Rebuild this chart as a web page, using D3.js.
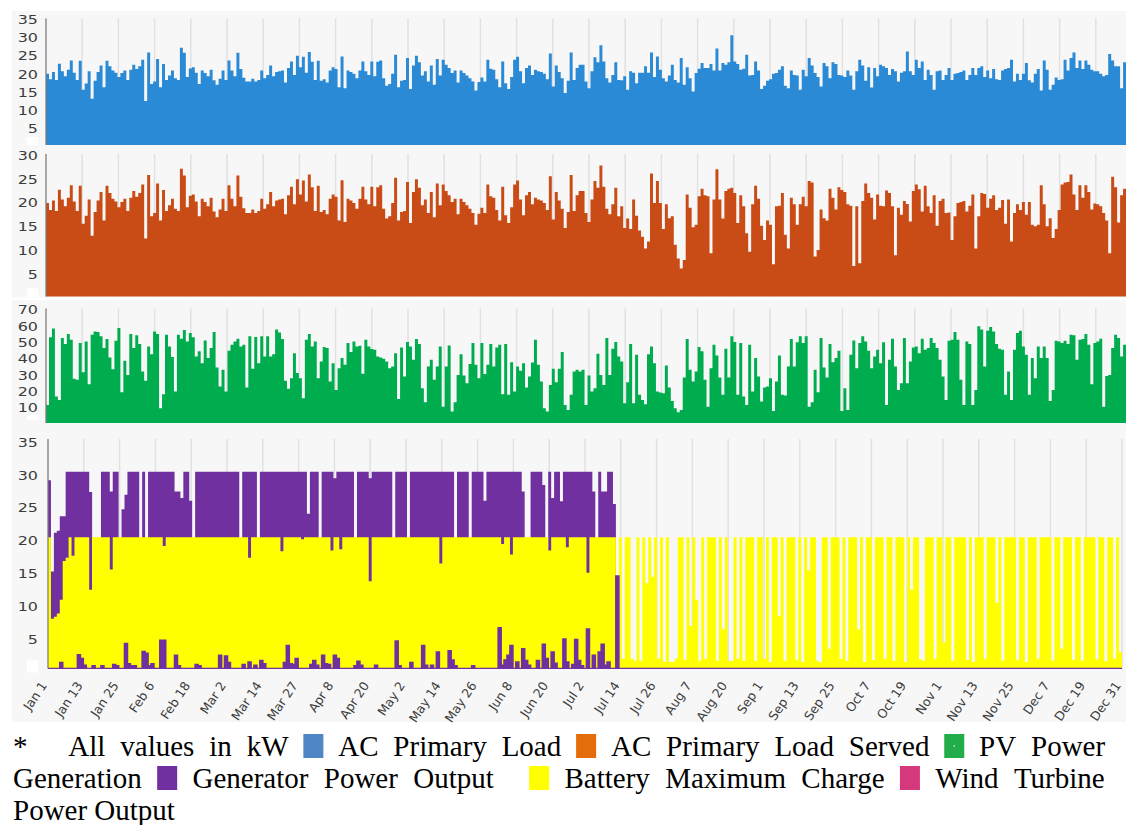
<!DOCTYPE html>
<html>
<head>
<meta charset="utf-8">
<title>Daily power profiles</title>
<script src="https://cdn.jsdelivr.net/npm/d3@7"></script>
<style>
  html, body { margin: 0; padding: 0; background: #ffffff; }
  svg { display: block; }
  .legend text { font-family: "Liberation Serif", "Times New Roman", Tinos, "DejaVu Serif", serif; }
</style>
</head>
<body>
<svg id="chart" width="1126" height="825"></svg>
<script>
// Daily values in kW, one entry per day from Jan 1 (index 0) to Dec 31 (index 364).

const acPrimaryLoad = [
  19.7, 18.2, 20.2, 18, 22.5, 20.4, 19, 20.8, 23.4, 20,
  18, 23.3, 15.3, 17, 20.4, 12.8, 17.8, 20.2, 22, 16,
  23.3, 21.8, 20.6, 20, 18.8, 19.9, 20.6, 18, 20.8, 22.2,
  21, 21.8, 23.6, 12.2, 25.6, 16.9, 17.6, 23.8, 16, 22.4,
  18, 19.2, 20.6, 18.5, 18, 26.9, 25.5, 18.8, 21.2, 21.5,
  20, 16.9, 20.6, 19.9, 19, 20.8, 17.9, 16.7, 18.3, 20.6,
  18, 23.4, 20.6, 19, 25.5, 21, 18.6, 17.6, 17.6, 18.3,
  17.6, 18, 20.6, 18.5, 19.4, 22, 19, 20.2, 20.4, 20.6,
  17.3, 21.3, 23.1, 19.4, 24.7, 21.5, 24.4, 20, 25.7, 23,
  18, 23.3, 17.8, 18.2, 17.3, 20.6, 21.5, 21, 16, 24.5,
  15.7, 20.6, 20.2, 19.7, 18.5, 20.6, 23.1, 20.4, 19.4,
  23.1, 19, 23, 23.4, 18.5, 16.4, 16.9, 19.7, 25, 16, 17.8,
  18, 24.1, 15.5, 22, 24.7, 22.9, 19.2, 20.4, 17.6, 22,
  16.7, 23.8, 19.2, 23.6, 22.2, 21.3, 19.9, 20.6, 17.3, 20.6,
  19.9, 19.2, 18.5, 17.6, 15.1, 17.4, 18.7, 17.6,
  23.6, 21.1, 20.8, 18.2, 16, 23.1, 17.1, 15.5, 18.8, 23.6,
  24.4, 20.4, 17.1, 21.3, 22, 19.4, 20.8, 20.4, 20.2, 19.7,
  18.2, 25.3, 16.2, 22, 20.2, 18.5, 14.4, 17.8, 25.6, 18,
  21.3, 22.2, 22.2, 17.6, 15.7, 20.4, 24.3, 22.9, 27.6, 23.1,
  18.5, 17.3, 19.4, 22.9, 18, 17.9, 19, 15.3, 20.4, 20,
  17.1, 20, 20, 21.8, 20, 25.6, 18.8, 24.5, 20.8, 18.5,
  17.6, 19.2, 22.2, 18, 17.3, 24.1, 16.7, 21.5, 18.5, 14.8,
  19.9, 21.1, 22.7, 21.3, 21.3, 22.4, 20.6, 26.7, 20.6, 22.7,
  22.2, 22.9, 30.4, 23.1, 22.4, 20.8, 21.1,
  25, 19.2, 19.4, 23.1, 20.6, 15.5, 16.4, 17.8, 18.2, 19.7,
  19.9, 20.8, 21.8, 16.4, 15.7, 20.6, 19.4, 19.2, 15.3, 20.8,
  19, 24.1, 22, 19.9, 18.8, 16.2, 22.7, 21.8, 18.5, 22.9,
  22.4, 19.4, 19.2, 18.8, 20.6, 19.2, 15.3, 20.4, 23.6, 22,
  17.8, 21.5, 15.9, 21.3, 19, 22.2, 21.8, 21.3, 19.4, 21,
  20.4, 17.6, 20, 20.4, 25.9, 20.4, 19.4, 23.6, 21.3, 23.1,
  18, 20.8, 19.4, 15.3, 20.4, 20.6, 18, 19.4, 21.3, 18,
  19.7, 19.9, 20.2, 20.6, 18, 19.4, 21.3, 19.4, 21.3, 21.8,
  18.8, 20.6, 18.5, 21, 18.2, 18, 20.6, 21, 21.3, 23.6,
  17.6, 19.7, 18, 19.7, 22.7, 17.9, 17.3, 19.7, 21, 15.1,
  23.4, 20.8, 15.3, 16.7, 18.7, 18, 18.2, 23.6, 20.6, 24.1,
  25.6, 21.3, 23.4, 21, 23.4, 22.2, 20.8, 20.4, 20.4, 19.7,
  19, 19.4, 25.2, 23.4, 21.8, 21.8, 15.7, 22.9, 22, 22.7
];

const acPrimaryLoadServed = [
  19.7, 18.2, 20.2, 18, 22.5, 20.4, 19, 20.8, 23.4, 20,
  18, 23.3, 15.3, 17, 20.4, 12.8, 17.8, 20.2, 22, 16,
  23.3, 21.8, 20.6, 20, 18.8, 19.9, 20.6, 18, 20.8, 22.2,
  21, 21.8, 23.6, 12.2, 25.6, 16.9, 17.6, 23.8, 16, 22.4,
  18, 19.2, 20.6, 18.5, 18, 26.9, 25.5, 18.8, 21.2, 21.5,
  20, 16.9, 20.6, 19.9, 19, 20.8, 17.9, 16.7, 18.3, 20.6,
  18, 23.4, 20.6, 19, 25.5, 21, 18.6, 17.6, 17.6, 18.3,
  17.6, 18, 20.6, 18.5, 19.4, 22, 19, 20.2, 20.4, 20.6,
  17.3, 21.3, 23.1, 19.4, 24.7, 21.5, 24.4, 20, 25.7, 23,
  18, 23.3, 17.8, 18.2, 17.3, 20.6, 21.5, 21, 16, 24.5,
  15.7, 20.6, 20.2, 19.7, 18.5, 20.6, 23.1, 20.4, 19.4,
  23.1, 19, 23, 23.4, 18.5, 16.4, 16.9, 19.7, 25, 16, 17.8,
  18, 24.1, 15.5, 22, 24.7, 22.9, 19.2, 20.4, 17.6, 22,
  16.7, 23.8, 19.2, 23.6, 22.2, 21.3, 19.9, 20.6, 17.3, 20.6,
  19.9, 19.2, 18.5, 17.6, 15.1, 17.4, 18.7, 17.6,
  23.6, 21.1, 20.8, 18.2, 16, 23.1, 17.1, 15.5, 18.8, 23.6,
  24.4, 20.4, 17.1, 21.3, 22, 19.4, 20.8, 20.4, 20.2, 19.7,
  18.2, 25.3, 16.2, 22, 20.2, 18.5, 14.4, 17.8, 25.6, 18,
  21.3, 22.2, 22.2, 17.6, 15.7, 20.4, 24.3, 22.9, 27.6, 23.1,
  18.5, 17.3, 19.4, 22.9,
  16.9, 19, 14.4, 16.4, 14.2, 20.4, 17, 13.9, 12.6, 10.1,
  11.6, 25.9, 19.7, 24.3, 19.7, 14.2, 19.4, 16.5, 16.9, 10.9,
  8, 5.9, 7.7, 21.5, 18.7, 14.6, 15.1, 21.1, 22.7, 21.3,
  21.1, 9.1, 20.4, 26.8, 20.4, 16.4, 22.2, 22.7, 22.9, 21.8,
  15.5, 21.3, 19,
  13.3, 9.4, 19.4, 23.3, 20.6, 14.9, 11.9, 16, 15.1, 6.8,
  19, 19.1, 21.8, 13, 10.1, 20.8, 19.4, 15.1, 19.4, 21,
  19, 24.3, 24, 8.4, 9.8, 18.3, 16.5, 16, 22.7, 20.8,
  18.3, 23, 22.4, 22, 19.4, 19.1, 6.4, 19, 7, 20.1,
  23.8, 21.8, 20.8, 16.2, 21.5, 19.1, 19, 22.3, 21.8, 19,
  8.7, 18.7, 17.2, 20.1, 19.5, 15.8, 22.2, 23.6, 22.6, 17.9,
  23.3, 19, 17.6, 21.3, 14.9, 20.1, 20.6, 17.6, 17.7, 11.9,
  16.9, 19.7, 19.9, 20.1, 17.9, 19.1, 21.5, 10.1, 16.9, 21.8,
  21.6, 18.7, 20.6, 21.3, 18.2, 18.7, 20.3, 15.3, 20.4, 11.6,
  17.6, 19.4, 18.2, 19.9, 17.2, 19.9, 15.1, 14.8, 15.1, 23.4,
  19.4, 14.8, 16.5, 12.3, 14.2, 18.2, 23.6, 24, 24.1, 25.7,
  21.5, 18.2, 23.4, 20.8, 23.4, 22, 18.3, 19.6, 19.4, 19,
  17.6, 16, 9.1, 25.2, 23, 15.6, 21.3, 22.7, 22.4, 25.9
];

const pvPowerGeneration = [
  11, 52.4, 57.7, 16.2, 14.1, 51.9, 48.3, 54.4, 50.9, 27,
  26.4, 48.9, 31.1, 49.9, 23.7, 54, 56, 55.6, 53, 45.8,
  51.3, 40.1, 32.9, 50.3, 58.1, 18.8, 38, 29.4, 54.4, 45.8,
  53.6, 48.3, 31.5, 25.8, 46.8, 42.1, 56, 54.4, 9, 17.6,
  54, 46.8, 40.3, 19.2, 54, 51.5, 56.9, 49.9, 55, 52.4,
  40.7, 43.8, 36.6, 50.5, 39.7, 45.8, 55.6, 33.9, 22.3, 32.5,
  19.2, 44.2, 47.9, 49.9, 51.5, 46.8, 47.9, 21.7, 53, 33.1,
  52.6, 36.6, 53, 40.7, 53, 40.7, 42.1, 57.1, 55.4, 51.3,
  25.8, 20.9, 27.4, 42.7, 30.5, 27.4, 15.1, 50.9, 54.4, 46.8,
  49.9, 27.4, 37.6, 46.4, 45.8, 25.4, 36.6, 20.2, 33.5, 39.7,
  35.6, 48.9, 43.4, 49.9, 46.8, 47.2, 30.1, 50.9, 46.8,
  45.2, 44.8, 40.7, 40.1, 39.3, 37.6, 33.5, 34.6, 42.7, 14.7,
  46.2, 28.4, 49.5, 46.8, 38.7, 51.3, 48.3, 21.3, 12.7, 34.6,
  38.7, 26.4, 34.6, 46.8, 10, 34.6, 47.4, 7, 12.7, 29.4,
  42.1, 29, 24.3, 36, 48.9, 35.6, 27.4, 48.9, 29.9, 35.6,
  48.3, 34.6, 46.2, 47.9, 17.6, 48.3, 17.2, 37.2, 19.2, 34.6,
  31.9, 36.6, 21.7, 28.4, 37, 50.9, 35.6, 25.4, 9, 7,
  23.3, 33.1, 24.9, 33.1, 43.4, 11, 8, 17.2, 31.5, 32.5,
  31.5, 32.5, 11, 29, 19.2, 21.3, 42.3, 29.4, 23.3, 51.9,
  29.4, 45.4, 49.5, 40.7, 37.6, 12.1, 24.9, 48.3, 12.1, 41.7,
  17.2, 14.1, 11.5, 42.1, 46.8, 36.6, 19.2, 18.6, 18.2, 35.2,
  21.7, 13.5, 9, 6.5, 8, 27.8, 51.3, 32.5, 25.4, 31.5,
  46.4, 43.8, 26.4, 10, 33.5, 47.9, 41.3, 27.8, 17.2, 45.4,
  27.8, 53, 49.5, 17.2, 48.9, 16.2,
  11, 47.9, 19.2, 39.7, 28.4, 13.1, 21.7, 22.3, 27.4, 7.4,
  25.4, 41.3, 17.2, 16.8, 34.6, 51.3, 34.6, 49.3, 53, 48.9,
  53, 10, 12.7, 32.5, 18.8, 51.9, 33.9, 27.8, 48.3, 37.2,
  39.7, 44.2, 7.4, 21.3, 8, 41.7, 50.5, 33.5, 48.9, 53,
  49.9, 44.2, 33.5, 40.7, 44.8, 36.6, 49.3, 11, 38.7, 51.5,
  34.6, 20.2, 24.3, 51.9, 24.3, 37.6, 46.2, 46.8, 42.7, 51.5,
  44.8, 45.8, 51.9, 48.9, 45.8, 38.7, 28.4, 14.1, 50.3, 50.9,
  55.6, 50.9, 26.4, 11, 49.9, 48.3, 11, 20.2, 59.1, 57.1,
  34.6, 56.4, 58.7, 56, 48.3, 45.4, 44.8, 17.2, 31.5, 14.1,
  44.8, 55, 56.4, 46.8, 41.7, 17.2, 39.7, 27.4, 46.8, 39.7,
  46.8, 39.7, 13.5, 20.2, 50.3, 49.9, 48.9, 50.3, 48.3, 54,
  53.6, 38.7, 50.9, 51.3, 54.4, 47.9, 23.7, 48.9, 49.9, 51.5,
  10, 28.8, 29.4, 45.8, 54, 51.9, 40.7, 47.9, 44.2, 30.5
];

// Generator output: daily peak (drawn behind the battery series) and daily low level (drawn in front)
const generatorPeak = [
  28.7, 14.8, 20.7, 21, 23.2, 23.2, 30, 30, 30, 30,
  30, 30, 30, 30, 26.9, 0, 0, 0, 30, 30,
  30, 27, 30, 30, 0, 24.3, 26.5, 30, 30, 30,
  30, 0, 30, 0, 30, 30, 30, 30, 30, 30,
  30, 30, 30, 27, 27, 26, 30, 30, 25.6, 0,
  30, 30, 30, 30, 30, 30, 30, 30, 30, 30,
  30, 30, 30, 30, 30, 0, 30, 30, 30, 30,
  30, 0, 30, 30, 30, 30, 30, 30, 30, 30,
  30, 30, 30, 30, 30, 30, 30, 30, 23.6, 30,
  30, 30, 0, 30, 30, 30, 30, 29, 30, 30,
  30, 30, 30, 30, 0, 30, 30, 30, 30, 29,
  30, 30, 30, 30, 30, 30, 30, 0, 30, 30,
  30, 30, 0, 30, 30, 30, 30, 30, 30, 30,
  30, 30, 30, 30, 30, 30, 30, 30, 0, 30,
  30, 30, 30, 0, 30, 30, 30, 30, 25.6, 30,
  30, 30, 30, 30, 30, 30, 30, 30, 30, 30,
  30, 27, 0, 0, 30, 30, 30, 30, 28, 0,
  30, 26, 30, 30, 25.5, 30, 30, 30, 30, 30,
  30, 30, 30, 30, 30, 27, 0, 30, 27, 27,
  30, 30, 25.1, 0, 0, 0, 0, 0, 0, 0,
  0, 0, 0, 0, 0, 0, 0, 0, 0, 0,
  0, 0, 0, 0, 0, 0, 0, 0, 0, 0,
  0, 0, 0, 0, 0, 0, 0, 0, 0, 0,
  0, 0, 0, 0, 0, 0, 0, 0, 0, 0,
  0, 0, 0, 0, 0, 0, 0, 0, 0, 0,
  0, 0, 0, 0, 0, 0, 0, 0, 0, 0,
  0, 0, 0, 0, 0, 0, 0, 0, 0, 0,
  0, 0, 0, 0, 0, 0, 0, 0, 0, 0,
  0, 0, 0, 0, 0, 0, 0, 0, 0, 0,
  0, 0, 0, 0, 0, 0, 0, 0, 0, 0,
  0, 0, 0, 0, 0, 0, 0, 0, 0, 0,
  0, 0, 0, 0, 0, 0, 0, 0, 0, 0,
  0, 0, 0, 0, 0, 0, 0, 0, 0, 0,
  0, 0, 0, 0, 0, 0, 0, 0, 0, 0,
  0, 0, 0, 0, 0, 0, 0, 0, 0, 0,
  0, 0, 0, 0, 0, 0, 0, 0, 0, 0,
  0, 0, 0, 0, 0
];

const batteryMaximumCharge = [
  20, 7.6, 7.9, 8.4, 10.5, 16.4, 16.9, 20, 17.2, 20,
  20, 20, 20, 20, 12, 20, 20, 20, 20, 20,
  20, 15.1, 20, 20, 20, 20, 20, 20, 20, 20,
  20, 20, 20, 20, 20, 20, 20, 20, 20, 18.7,
  20, 20, 20, 20, 20, 20, 20, 20, 20, 20,
  20, 20, 20, 20, 20, 20, 20, 20, 20, 20,
  20, 20, 20, 20, 20, 20, 20, 20, 16.9, 20,
  20, 20, 20, 20, 20, 20, 20, 20, 20, 17.9,
  20, 20, 20, 20, 20, 20, 19.7, 20, 20, 20,
  20, 20, 20, 20, 20, 20, 18, 20, 20, 18.2,
  20, 20, 20, 20, 20, 20, 20, 20, 20, 13.3,
  20, 20, 20, 20, 20, 20, 20, 20, 20, 20,
  20, 20, 20, 20, 20, 20, 20, 20, 20, 20,
  20, 20, 20, 16, 20, 20, 20, 20, 20, 20,
  20, 20, 20, 20, 20, 20, 20, 20, 20, 20,
  20, 20, 20, 20, 19, 20, 20, 17.4, 20, 20,
  20, 20, 20, 20, 20, 20, 20, 20, 20, 20,
  18, 20, 20, 20, 20, 20, 18.5, 20, 20, 20,
  20, 20, 20, 14.6, 20, 20, 20, 20, 20, 20,
  20, 20, 20, 0, 20, 1.5, 20, 20, 1.5, 1.2,
  20, 1.2, 20, 13, 20, 14, 20, 1.5, 20, 1,
  20, 1, 1, 1.5, 20, 20, 1.3, 20, 6.5, 20,
  10.5, 1.2, 20, 1.5, 20, 20, 20, 1.2, 20, 6,
  20, 1.2, 1.2, 20, 1.5, 20, 1.2, 20, 20, 20,
  1.2, 20, 20, 1.5, 20, 1, 20, 20, 8, 20,
  1.2, 20, 20, 20, 1.3, 20, 1, 20, 15, 20,
  20, 1.2, 1, 20, 20, 3, 20, 20, 20, 1.5,
  20, 1.2, 20, 20, 20, 6, 20, 1, 20, 20,
  1.3, 20, 20, 20, 1.5, 20, 20, 1.2, 20, 20,
  20, 1, 20, 12, 20, 20, 1.4, 1.2, 20, 20,
  20, 1.5, 20, 20, 4, 20, 20, 1.2, 20, 20,
  20, 20, 1.3, 20, 1, 20, 20, 20, 1.5, 20,
  20, 20, 10, 20, 1.2, 20, 20, 20, 20, 1.3,
  20, 20, 1, 20, 20, 20, 1.5, 20, 20, 20,
  20, 1.2, 20, 20, 3, 20, 20, 20, 1.3, 20,
  20, 1.2, 20, 20, 20, 20, 1.4, 20, 20, 1.1,
  20, 20, 1.5, 20, 2.5
];

const generatorLow = [
  0, 0, 0, 0, 0.9, 0, 0, 0, 0, 0,
  2.1, 1.5, 0.5, 0, 0, 0.4, 0, 0, 0.4, 0,
  0, 0, 0.6, 0.4, 0, 0, 3.8, 0.7, 0.4, 0.4,
  0, 0, 2.6, 2.3, 0.4, 0.7, 0, 0, 4.3, 4.3,
  0, 0, 0, 2, 0.4, 0, 0, 0, 0, 0,
  0.6, 0.4, 0, 0, 0, 0, 0, 0, 2, 0,
  1.9, 0.9, 0, 0, 0, 0, 0.6, 0, 1, 0,
  0.5, 0, 1.2, 0.7, 0, 0, 0, 0, 0, 0,
  0.9, 3.5, 0.7, 0.6, 1.5, 0, 0, 0, 0, 0.6,
  1.2, 0.5, 0, 2, 0.7, 0.6, 0, 2, 1.5, 0,
  0, 0, 0, 0, 0.4, 1.1, 0.5, 0, 0, 0,
  0, 0.5, 0, 0, 0, 0, 0, 0, 4.2, 0.4,
  0, 0, 0, 0.9, 0, 0, 0, 3.5, 0.5, 0,
  0.5, 0, 2.5, 0, 0, 0, 2.7, 1.3, 0.4, 0,
  0, 0, 0, 0, 0.4, 0, 0, 0, 0, 0,
  0, 0, 0, 6.2, 0.5, 1.3, 2, 3.5, 0, 1,
  0, 3, 1.2, 0.5, 0, 0, 1.2, 0, 3.7, 1.5,
  0, 2.5, 0.8, 0, 0, 4.5, 1, 0, 0.6, 4.4,
  1.2, 0.4, 0, 6, 0, 2, 0, 2.5, 3.7, 0.5,
  1, 0, 0, 14.1, 0, 0, 0, 0, 0, 0,
  0, 0, 0, 0, 0, 0, 0, 0, 0, 0,
  0, 0, 0, 0, 0, 0, 0, 0, 0, 0,
  0, 0, 0, 0, 0, 0, 0, 0, 0, 0,
  0, 0, 0, 0, 0, 0, 0, 0, 0, 0,
  0, 0, 0, 0, 0, 0, 0, 0, 0, 0,
  0, 0, 0, 0, 0, 0, 0, 0, 0, 0,
  0, 0, 0, 0, 0, 0, 0, 0, 0, 0,
  0, 0, 0, 0, 0, 0, 0, 0, 0, 0,
  0, 0, 0, 0, 0, 0, 0, 0, 0, 0,
  0, 0, 0, 0, 0, 0, 0, 0, 0, 0,
  0, 0, 0, 0, 0, 0, 0, 0, 0, 0,
  0, 0, 0, 0, 0, 0, 0, 0, 0, 0,
  0, 0, 0, 0, 0, 0, 0, 0, 0, 0,
  0, 0, 0, 0, 0, 0, 0, 0, 0, 0,
  0, 0, 0, 0, 0, 0, 0, 0, 0, 0,
  0, 0, 0, 0, 0, 0, 0, 0, 0, 0,
  0, 0, 0, 0, 0
];

const dateTickLabels = ["Jan 1", "Jan 13", "Jan 25", "Feb 6", "Feb 18", "Mar 2", "Mar 14",
  "Mar 27", "Apr 8", "Apr 20", "May 2", "May 14", "May 26", "Jun 8", "Jun 20", "Jul 2",
  "Jul 14", "Jul 26", "Aug 7", "Aug 20", "Sep 1", "Sep 13", "Sep 25", "Oct 7", "Oct 19",
  "Nov 1", "Nov 13", "Nov 25", "Dec 7", "Dec 19", "Dec 31"];

const loadTicks = [5, 10, 15, 20, 25, 30, 35];
const servedTicks = [5, 10, 15, 20, 25, 30];
const pvTicks = [10, 20, 30, 40, 50, 60, 70];
const storageTicks = [5, 10, 15, 20, 25, 30, 35];

// ---- drawing ----
const DAYS = 365;
const WIDTH = 1126;
const svg = d3.select("#chart");
const defs = svg.append("defs");
const tickDays = dateTickLabels.map((_, i) => i * DAYS / (dateTickLabels.length - 1));

// panel backgrounds
svg.append("rect").attr("x", 12).attr("y", 11).attr("width", WIDTH - 12).attr("height", 286.5).attr("fill", "#f7f7f7");
svg.append("rect").attr("x", 12).attr("y", 300).attr("width", WIDTH - 12).attr("height", 422).attr("fill", "#f7f7f7");

function drawPanel(cfg) {
  const g = svg.append("g");
  const x = d3.scaleLinear().domain([0, DAYS]).range(cfg.xRange);
  const y = d3.scaleLinear().domain([0, cfg.yMax]).range([cfg.yBase, cfg.yTop]);

  // vertical grid
  g.append("g").selectAll("line").data(tickDays).join("line")
    .attr("x1", d => x(d)).attr("x2", d => x(d))
    .attr("y1", cfg.yTop).attr("y2", cfg.yBase)
    .attr("stroke", "#e1e1e1").attr("stroke-width", 1.5);

  const clipId = "clip-" + cfg.id;
  defs.append("clipPath").attr("id", clipId).append("rect")
    .attr("x", cfg.xRange[0]).attr("y", cfg.yTop - 2)
    .attr("width", WIDTH - cfg.xRange[0]).attr("height", cfg.yBase - cfg.yTop + 2.5);

  const plot = g.append("g").attr("clip-path", `url(#${clipId})`);
  cfg.series.forEach(s => {
    const pts = s.values.map((v, i) => [i, v]);
    pts.push([s.values.length, s.values[s.values.length - 1]]);
    const area = d3.area()
      .x(d => x(d[0]))
      .y0(y(0))
      .y1(d => y(d[1]))
      .curve(d3.curveStepAfter);
    plot.append("path")
      .attr("d", area(pts))
      .attr("fill", s.color)
      .attr("stroke", s.stroke || "none")
      .attr("stroke-width", s.strokeWidth || 0);
  });

  // y axis line
  g.append("line")
    .attr("x1", cfg.xRange[0]).attr("x2", cfg.xRange[0])
    .attr("y1", cfg.yTop).attr("y2", cfg.yBase)
    .attr("stroke", "#7d7d7d").attr("stroke-width", 1.2);

  // y tick labels
  const axis = d3.axisLeft(y).tickValues(cfg.ticks).tickSize(0).tickPadding(0);
  const ag = g.append("g").attr("transform", `translate(38,${cfg.labelDy})`).call(axis);
  ag.select(".domain").remove();
  ag.selectAll("text")
    .attr("x", 0).attr("dy", "0.36em")
    .attr("transform", "scale(1.33,1)")
    .attr("font-family", "'DejaVu Sans', Verdana, sans-serif")
    .attr("font-size", 12)
    .attr("fill", "#3c3c3c");

  // blank patch where the zero label sits
  g.append("rect").attr("x", 27).attr("y", cfg.yBase - 8).attr("width", 11).attr("height", cfg.patchH)
    .attr("fill", "#ffffff");

  return { x, y, g };
}

drawPanel({
  id: "load", xRange: [46, 1132], yTop: 18.5, yBase: 145, yMax: 35, ticks: loadTicks, labelDy: 1, patchH: 8.5,
  series: [{ values: acPrimaryLoad, color: "#2a8ad5" }]
});
drawPanel({
  id: "served", xRange: [46, 1132], yTop: 154, yBase: 296.5, yMax: 30, ticks: servedTicks, labelDy: 1, patchH: 8.5,
  series: [{ values: acPrimaryLoadServed, color: "#c94c17" }]
});
drawPanel({
  id: "pv", xRange: [46, 1132], yTop: 308.5, yBase: 423, yMax: 70, ticks: pvTicks, labelDy: 1, patchH: 5,
  series: [{ values: pvPowerGeneration, color: "#00ad4e" }]
});
const storage = drawPanel({
  id: "storage", xRange: [48, 1122], yTop: 439, yBase: 668.5, yMax: 35, ticks: storageTicks, labelDy: 3, patchH: 12,
  series: [
    { values: generatorPeak, color: "#7030a0" },
    { values: batteryMaximumCharge, color: "#ffff00" },
    { values: generatorLow, color: "#7030a0", stroke: "#7030a0", strokeWidth: 1.6 }
  ]
});

// date axis under the last panel
const xAxis = d3.axisBottom(storage.x).tickValues(tickDays)
  .tickFormat((d, i) => dateTickLabels[i]).tickSize(0).tickPadding(0);
const xg = svg.append("g").attr("transform", "translate(0,668.5)").call(xAxis);
xg.select(".domain").remove();
xg.selectAll("text")
  .attr("y", 0).attr("dy", 0)
  .attr("text-anchor", "end")
  .attr("transform", "translate(-1,17) rotate(-56)")
  .attr("font-family", "'DejaVu Sans', Verdana, sans-serif")
  .attr("font-size", 12.5)
  .attr("fill", "#3c3c3c");

// ---- legend (justified paragraph) ----
const legendColors = {
  load: "#4f86c6", served: "#e46c0a", pv: "#22ac4a", gen: "#7030a0", batt: "#ffff00", wind: "#d6387d"
};
const legendLines = [
  { y: 756, justify: true, tokens: ["*", { gap: 26 }, "All", "values", "in", "kW", { box: "load" }, "AC", "Primary", "Load",
    { box: "served" }, "AC", "Primary", "Load", "Served", { box: "pv" }, "PV", "Power"] },
  { y: 788, justify: true, tokens: ["Generation", { box: "gen" }, "Generator", "Power", "Output", { gap: 20 },
    { box: "batt" }, "Battery", "Maximum", "Charge", { box: "wind" }, "Wind", "Turbine"] },
  { y: 820, justify: false, tokens: ["Power", "Output"] }
];
const legendSize = 29;
const legend = svg.append("g").attr("class", "legend");
const BOX_W = 20, BOX_H = 24;
const LEFT = 13, RIGHT = 1120;

legendLines.forEach(line => {
  const items = [];
  line.tokens.forEach(t => {
    if (typeof t === "string") {
      const el = legend.append("text").attr("y", line.y)
        .attr("font-size", legendSize).attr("fill", "#000").text(t);
      items.push({ el, w: el.node().getComputedTextLength(), kind: "word" });
    } else if (t.box) {
      const el = legend.append("rect").attr("y", line.y - 22).attr("width", BOX_W).attr("height", BOX_H)
        .attr("fill", legendColors[t.box]);
      items.push({ el, w: BOX_W, kind: "box", key: t.box });
    } else {
      items.push({ w: t.gap, kind: "gap" });
    }
  });
  const natural = d3.sum(items, d => d.w);
  const joins = items.length - 1;
  const space = line.justify ? (RIGHT - LEFT - natural) / joins : legendSize * 0.25;
  let cx = LEFT;
  items.forEach(it => {
    if (it.el) it.el.attr("x", cx);
    if (it.kind === "box" && it.key === "pv") {
      legend.append("circle").attr("cx", cx + BOX_W / 2).attr("cy", line.y - 22 + BOX_H / 2)
        .attr("r", 0.8).attr("fill", "#e8f5ea");
    }
    cx += it.w + (it.kind === "gap" ? 0 : space);
  });
});
</script>
</body>
</html>
